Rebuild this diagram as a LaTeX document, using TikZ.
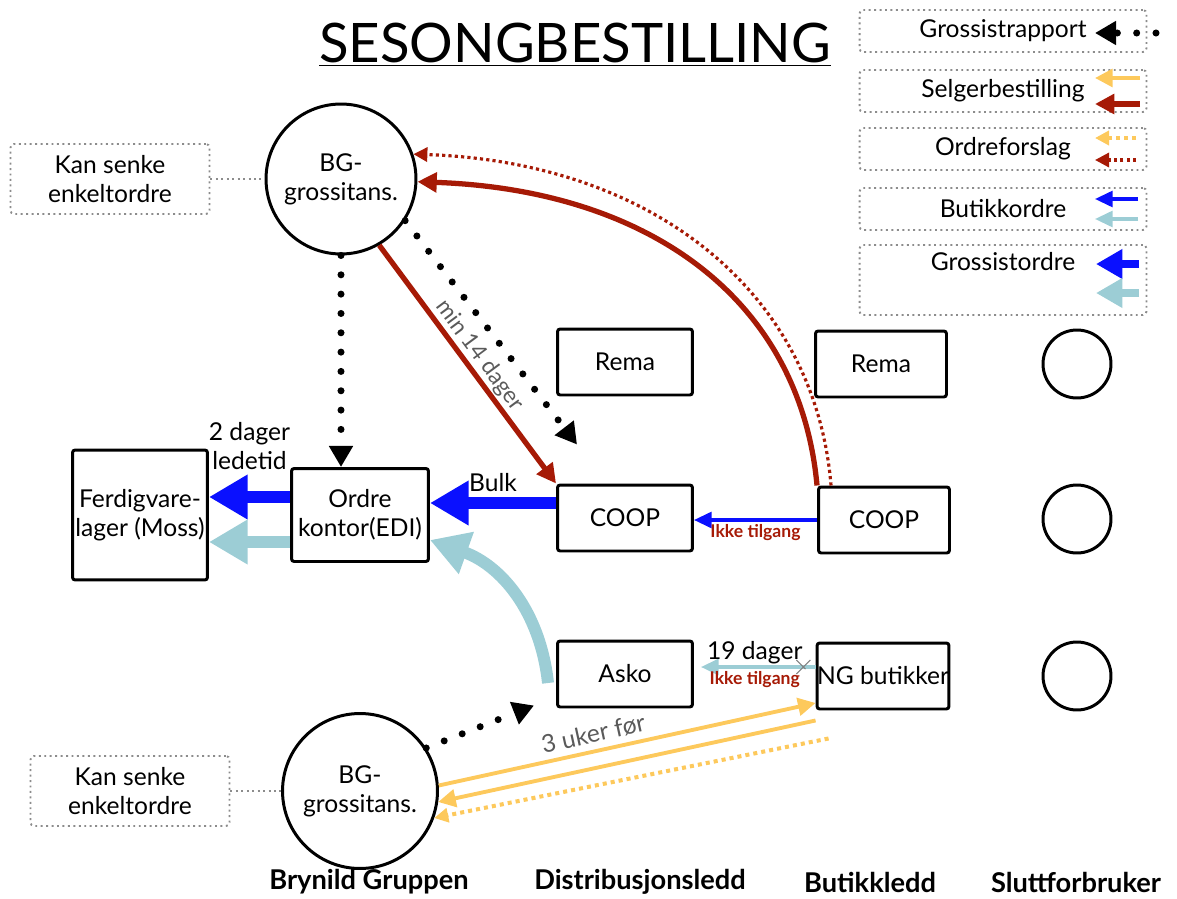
\documentclass[tikz,border=0pt]{standalone}
\usepackage{fontspec}
\setmainfont{Lato}
\usetikzlibrary{arrows.meta,shapes.misc}

\definecolor{bgred}{HTML}{A61A06}
\definecolor{bgyellow}{HTML}{FDC95C}
\definecolor{bgblue}{HTML}{0A10FF}
\definecolor{bglight}{HTML}{9CCDD5}
\definecolor{notegray}{HTML}{8C8C8C}
\definecolor{textgray}{HTML}{5A5A5A}

\begin{document}
\begin{tikzpicture}[x=0.02cm, y=-0.02cm,
    every node/.style={font=\fontsize{14}{16.5}\selectfont, text=black},
    box/.style={draw, line width=1.7pt, rounded corners=1.5pt, align=center, inner sep=0pt},
    distbox/.style={box, minimum width=2.7cm, minimum height=1.32cm},
    shopbox/.style={box, minimum width=2.62cm, minimum height=1.32cm},
    bgcircle/.style={draw, circle, line width=1.7pt, minimum size=3cm, inner sep=0pt, align=center},
    endcircle/.style={draw, circle, line width=1.7pt, minimum size=1.36cm},
    legbox/.style={draw=notegray, line width=1.1pt, dotted, rounded corners=2pt, minimum width=5.74cm, minimum height=0.84cm, inner sep=0pt},
    note/.style={legbox, minimum width=3.98cm, minimum height=1.4cm, align=center},
    lane/.style={font=\fontsize{15.5}{18}\selectfont\bfseries},
    blocked/.style={font=\fontsize{10}{12}\selectfont\bfseries, text=bgred, inner sep=1.5pt},
    report/.style={line width=4pt, line cap=round, dash pattern=on 0pt off 11pt, -{Triangle[length=12pt, width=13pt]}},
    sell/.style={bgred, line width=3pt, -{Triangle[length=11pt, width=11pt]}},
    sellyellow/.style={bgyellow, line width=2.2pt, -{Triangle[length=10pt, width=10pt]}},
    proposal/.style={bgred, line width=1.8pt, dash pattern=on 1.8pt off 1.8pt, -{Triangle[length=8pt, width=8pt]}},
    proposalyellow/.style={proposal, bgyellow, line width=2.3pt, dash pattern=on 2.3pt off 2.3pt},
    shop/.style={bgblue, line width=1.8pt, -{Triangle[length=10pt, width=9pt]}},
    shoplight/.style={shop, bglight},
    wholesale/.style={bgblue, line width=6.8pt, -{Triangle[length=22pt, width=24pt]}},
    wholesalelight/.style={wholesale, bglight},
    legthick/.style={line width=4.5pt, -{Triangle[length=15pt, width=16pt]}}]

    \useasboundingbox (0,0) rectangle (1177,899);

    \node[font=\fontsize{31}{36}\selectfont] (title) at (575,45) {\underline{SESONGBESTILLING}};

    \node[legbox] (lgrap) at (1003,31) {Grossistrapport};
    \node[legbox] (lgsel) at (1003,91) {Selgerbestilling};
    \node[legbox] (lgord) at (1003,149) {Ordreforslag};
    \node[legbox] (lgbut) at (1003,209) {Butikkordre};
    \node[legbox, minimum height=1.4cm, text height=0.5cm, text depth=0.9cm] (lggro) at (1003,280) {Grossistordre};
    \foreach \n/\x/\y/\sty in {rap/1156/33/report, sely/1140/78/sellyellow, selr/1140/104/sell,
            ordy/1136/138/proposalyellow, ordr/1136/160/proposal, butb/1138/199/shop,
            butl/1138/219/shoplight}{
        \coordinate (\n a) at (\x,\y);
        \coordinate (\n b) at (1095,\y);
        \draw[\sty] (\n a) -- (\n b);
    }
    \coordinate (groba) at (1139,264);
    \coordinate (grobb) at (1096,264);
    \coordinate (grola) at (1139,293);
    \coordinate (grolb) at (1096,293);
    \draw[wholesale, legthick] (groba) -- (grobb);
    \draw[wholesalelight, legthick] (grola) -- (grolb);

    \node[bgcircle] (bgtop) at (341,179) {BG-\\grossitans.};
    \node[bgcircle, minimum size=3.1cm] (bgbot) at (360,791) {BG-\\grossitans.};
    \node[note] (notetop) at (110,179) {Kan senke\\enkeltordre};
    \node[note] (notebot) at (130,791) {Kan senke\\enkeltordre};
    \draw[notegray, line width=1.1pt, dotted] (notetop) -- (bgtop);
    \draw[notegray, line width=1.1pt, dotted] (notebot) -- (bgbot);

    \node[box, minimum width=2.7cm, minimum height=2.6cm] (lager) at (140,515) {Ferdigvare-\\lager (Moss)};
    \node[box, minimum width=2.74cm, minimum height=1.86cm] (edi) at (360,515) {Ordre\\kontor(EDI)};

    \node[distbox] (rema1) at (625,362) {Rema};
    \node[distbox] (coop1) at (625,518) {COOP};
    \node[distbox] (asko) at (625,674) {Asko};
    \node[shopbox] (rema2) at (881,364) {Rema};
    \node[shopbox] (coop2) at (884,520) {COOP};
    \node[shopbox] (ng) at (883,676) {NG butikker};
    \foreach \i/\y in {1/364, 2/519, 3/676}
        \node[endcircle] (end\i) at (1077,\y) {};

    \node[lane] (lanebg) at (369,882) {Brynild Gruppen};
    \node[lane] (lanedist) at (640,882) {Distribusjonsledd};
    \node[lane] (laneshop) at (870,882) {Butikkledd};
    \node[lane] (laneend) at (1076,882) {Sluttforbruker};

    \draw[report] (bgtop.south) -- (bgtop.south |- edi.north);
    \draw[report] (bgtop.-33) -- ([xshift=-0.96cm, yshift=0.78cm]coop1.north);
    \draw[sell] (bgtop.-60) -- (coop1.north west)
        node[midway, sloped, above, inner sep=1pt, text=textgray, font=\fontsize{13}{15}\selectfont] {min 14 dager};
    \draw[sell] (coop2.north west) .. controls (800,300) and (650,190) .. (bgtop);
    \draw[proposal] ([xshift=0.28cm]coop2.north west) .. controls (815,290) and (650,162) .. (bgtop.19);

    \draw[wholesale] ([yshift=0.3cm]coop1.west) -- ([yshift=0.3cm]coop1.west -| edi.east)
        node[midway, above=2pt, inner sep=1pt] {Bulk};
    \draw[wholesale] ([yshift=0.36cm]edi.west) -- ([yshift=0.36cm]edi.west -| lager.east)
        node[midway, above=0.3cm, align=center] {2 dager\\ledetid};
    \draw[wholesalelight] ([yshift=-0.54cm]edi.west) -- ([yshift=-0.54cm]edi.west -| lager.east);
    \draw[wholesalelight] ([shift={(-0.16cm,-0.18cm)}]asko.west) .. controls (540,610) and (500,565) .. ([yshift=-0.5cm]edi.east);

    \draw[shop] (coop2.west) -- (coop2.west -| coop1.east)
        node[midway, below, blocked] {Ikke tilgang};
    \draw[shoplight, shorten >=0.14cm] ([yshift=0.18cm]ng.west) -- ([yshift=0.18cm]ng.west -| asko.east)
        node[pos=0.1, cross out, draw=gray, line width=0.6pt, minimum size=0.26cm, inner sep=0pt] (stop) {}
        node[midway, above, inner sep=1pt] {19 dager}
        node[midway, below, blocked] {Ikke tilgang};

    \draw[sellyellow] (bgbot.4) -- ([yshift=0.15cm]ng.south west)
        node[pos=0.42, sloped, above, text=textgray] {3 uker før};
    \draw[sellyellow] ([yshift=-0.2cm]ng.south west) -- (bgbot.-8);
    \draw[proposalyellow] ([shift={(0.26cm,-0.56cm)}]ng.south west) -- (bgbot.-20);
    \draw[report] (bgbot.33) -- ([xshift=-0.44cm, yshift=0.06cm]asko.south west);
\end{tikzpicture}
\end{document}
